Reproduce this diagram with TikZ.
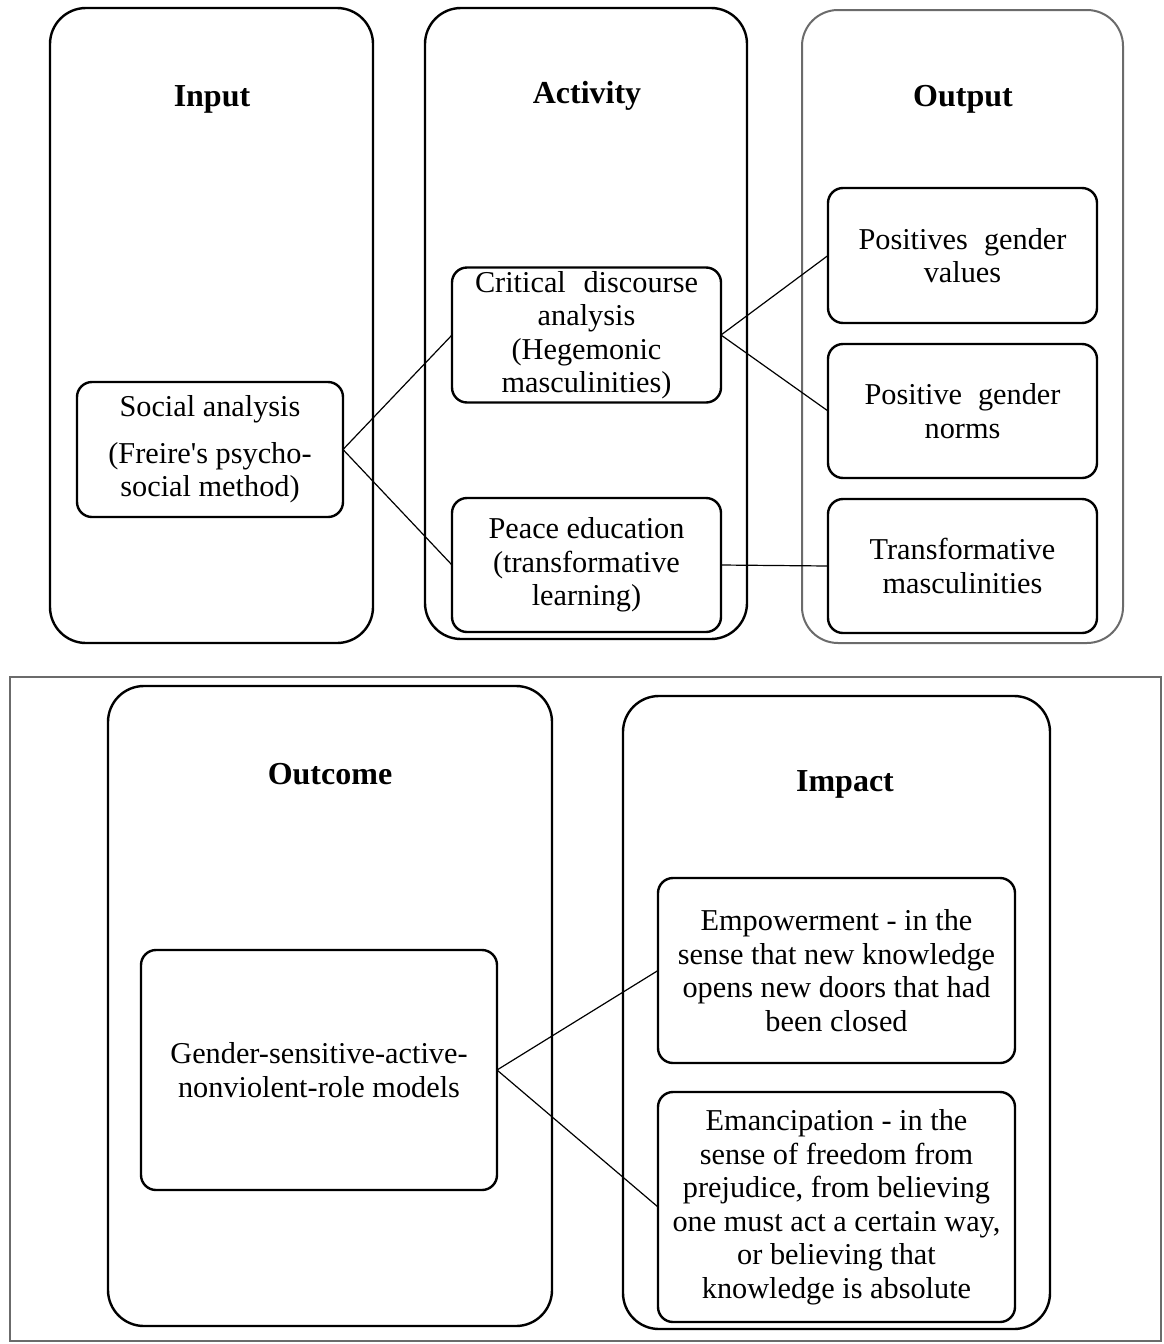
\documentclass[tikz,border=0pt]{standalone}
\usepackage{fontspec}
\setmainfont{Liberation Serif}[Ligatures=TeXOff]
% a line whose word spaces are stretched to a given width
\newcommand{\spreadline}[2]{\makebox[#1][s]{#2}}
\begin{document}
\begin{tikzpicture}[x=1pt,y=-1pt,
  container/.style={draw=black, line width=2.4pt, rounded corners=36pt, inner sep=0pt, outer sep=0pt},
  graycontainer/.style={container, draw=black!58, line width=2pt},
  itembox/.style={draw=black, line width=2.4pt, rounded corners=15pt, inner sep=0pt, outer sep=0pt,
    align=center, font=\fontsize{30.3}{33.5}\selectfont},
  title/.style={font=\fontsize{32}{36}\selectfont\bfseries},
  link/.style={draw=black, line width=1.2pt}]
\useasboundingbox (0,0) rectangle (1164,1344);

% upper row: input, activity, output
\node[container, minimum width=323pt, minimum height=635pt] (input) at (211.5,325.5) {};
\node[container, minimum width=322pt, minimum height=631pt] (activity) at (586,323.5) {};
\node[graycontainer, minimum width=321pt, minimum height=633pt] (output) at (962.5,326.5) {};
\node[title] (tinput) at (212,99) {Input};
\node[title] (tactivity) at (587,96) {Activity};
\node[title] (toutput) at (963,99) {Output};

\node[itembox, minimum width=266pt, minimum height=135pt] (social) at (210,449.5)
  {Social analysis\\[13pt](Freire's psycho-\\social method)};
\node[itembox, minimum width=269pt, minimum height=135pt] (critical) at (586.5,335)
  {\spreadline{223pt}{Critical discourse}\\analysis\\(Hegemonic\\masculinities)};
\node[itembox, minimum width=269pt, minimum height=134pt] (peace) at (586.5,565)
  {Peace education\\(transformative\\learning)};
\node[itembox, minimum width=269pt, minimum height=135pt] (values) at (962.5,255.5)
  {\spreadline{208pt}{Positives gender}\\values};
\node[itembox, minimum width=269pt, minimum height=134pt] (norms) at (962.5,411)
  {\spreadline{196pt}{Positive gender}\\norms};
\node[itembox, minimum width=269pt, minimum height=134pt] (transf) at (962.5,566)
  {Transformative\\masculinities};

\draw[link] (social.east) -- (critical.west);
\draw[link] (social.east) -- (peace.west);
\draw[link] (critical.east) -- (values.west);
\draw[link] (critical.east) -- (norms.west);
\draw[link] (peace.east) -- (transf.west);

% lower frame: outcome and impact
\node[draw=black!58, line width=2pt, inner sep=0pt, outer sep=0pt,
  minimum width=1151pt, minimum height=664pt] (frame) at (585.5,1009) {};
\node[container, minimum width=444pt, minimum height=640pt] (outcome) at (330,1006) {};
\node[container, minimum width=427pt, minimum height=633pt] (impact) at (836.5,1012.5) {};
\node[title] (toutcome) at (330,774) {Outcome};
\node[title] (timpact) at (845,784) {Impact};

\node[itembox, minimum width=356pt, minimum height=240pt] (model) at (319,1070)
  {Gender-sensitive-active-\\nonviolent-role models};
\node[itembox, minimum width=357pt, minimum height=185pt] (empower) at (836.5,970.5)
  {Empowerment - in the\\sense that new knowledge\\opens new doors that had\\been closed};
\node[itembox, minimum width=357pt, minimum height=230pt] (emancip) at (836.5,1207)
  {Emancipation - in the\\sense of freedom from\\prejudice, from believing\\one must act a certain way,\\or believing that\\knowledge is absolute};

\draw[link] (model.east) -- (empower.west);
\draw[link] (model.east) -- (emancip.west);
\end{tikzpicture}
\end{document}
